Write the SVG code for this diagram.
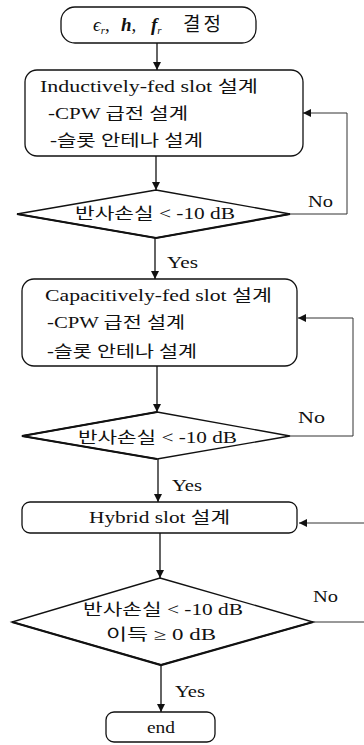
<svg xmlns="http://www.w3.org/2000/svg" width="364" height="745" viewBox="0 0 364 745">
<style>
.t{font-family:"Liberation Serif","Noto Sans CJK KR",serif;font-size:16px;fill:#111}
.box{fill:#fff;stroke:#111;stroke-width:1.3}
.dia{fill:#fff;stroke:#111;stroke-width:1.4;stroke-linejoin:miter}
.heavy{fill:none;stroke:#111;stroke-width:2.2}
.ln{fill:none;stroke:#111;stroke-width:1.3}
.loop{fill:none;stroke:#333;stroke-width:1}
</style>
<defs>
<marker id="ah" viewBox="0 0 10 10" refX="10" refY="5" markerWidth="8" markerHeight="8" markerUnits="userSpaceOnUse" orient="auto">
<path d="M0,0 L10,5 L0,10 Z" fill="#111"/>
</marker>
</defs>
<rect width="364" height="745" fill="#fff"/>
<g id="connectors">
<line class="ln" x1="157" y1="43" x2="157" y2="70" marker-end="url(#ah)"/>
<line class="ln" x1="156" y1="156" x2="156" y2="190" marker-end="url(#ah)"/>
<polyline class="loop" points="290,214 347,214 347,113 303,113" marker-end="url(#ah)"/>
<line class="ln" x1="155" y1="238" x2="155" y2="279" marker-end="url(#ah)"/>
<text class="t" x="167" y="268" textLength="31" lengthAdjust="spacingAndGlyphs">Yes</text>
<text class="t" x="308" y="207" textLength="25" lengthAdjust="spacingAndGlyphs">No</text>
<line class="ln" x1="157" y1="366" x2="157" y2="412" marker-end="url(#ah)"/>
<polyline class="loop" points="290,436 353,436 353,318 298,318" marker-end="url(#ah)"/>
<text class="t" x="298" y="423" textLength="27" lengthAdjust="spacingAndGlyphs">No</text>
<line class="ln" x1="158" y1="459" x2="158" y2="502" marker-end="url(#ah)"/>
<text class="t" x="172" y="491" textLength="30" lengthAdjust="spacingAndGlyphs">Yes</text>
<line class="loop" x1="364" y1="523" x2="299" y2="523" marker-end="url(#ah)"/>
<line class="loop" x1="313" y1="622" x2="364" y2="622"/>
<text class="t" x="313" y="602" textLength="25" lengthAdjust="spacingAndGlyphs">No</text>
<line class="ln" x1="160" y1="533" x2="160" y2="578" marker-end="url(#ah)"/>
<line class="ln" x1="161" y1="665" x2="161" y2="712" marker-end="url(#ah)"/>
<text class="t" x="175" y="697" textLength="30" lengthAdjust="spacingAndGlyphs">Yes</text>
</g>
<g id="start">
<rect class="box" x="61" y="7" width="195" height="36" rx="14"/>
<text class="t" y="31" style="font-size:19px"><tspan x="93" font-style="italic">ϵ</tspan><tspan font-size="11" dy="3" font-style="italic">r</tspan><tspan dy="-3">,</tspan><tspan x="121" font-style="italic" font-weight="bold">h</tspan><tspan>,</tspan><tspan x="151" font-style="italic" font-weight="bold">f</tspan><tspan font-size="11" dy="3" font-style="italic">r</tspan><tspan x="183" dy="-3" letter-spacing="3">결정</tspan></text>
</g>
<g id="inductive">
<rect class="box" x="25" y="70" width="278" height="86" rx="12"/>
<text class="t" x="40" y="92" textLength="218" lengthAdjust="spacingAndGlyphs">Inductively-fed slot 설계</text>
<text class="t" x="48" y="119" textLength="140" lengthAdjust="spacingAndGlyphs">-CPW 급전 설계</text>
<text class="t" x="50" y="146" textLength="153" lengthAdjust="spacingAndGlyphs">-슬롯 안테나 설계</text>
</g>
<g id="check1">
<polygon class="dia" points="156,190 290,214 156,238 17,214"/>
<polyline class="heavy" points="17,214 156,238 290,214"/>
<text class="t" x="75" y="219" textLength="160" lengthAdjust="spacingAndGlyphs">반사손실 &lt; -10 dB</text>
</g>
<g id="capacitive">
<rect class="box" x="22" y="279" width="275" height="87" rx="12"/>
<text class="t" x="45" y="301" textLength="227" lengthAdjust="spacingAndGlyphs">Capacitively-fed slot 설계</text>
<text class="t" x="47" y="328" textLength="138" lengthAdjust="spacingAndGlyphs">-CPW 급전 설계</text>
<text class="t" x="47" y="357" textLength="150" lengthAdjust="spacingAndGlyphs">-슬롯 안테나 설계</text>
</g>
<g id="check2">
<polygon class="dia" points="157,412 290,436 157,459 22,436"/>
<polyline class="heavy" points="157,412 22,436 157,459"/>
<text class="t" x="78" y="443" textLength="159" lengthAdjust="spacingAndGlyphs">반사손실 &lt; -10 dB</text>
</g>
<g id="hybrid">
<rect class="box" x="22" y="502" width="275" height="31" rx="8"/>
<text class="t" x="89" y="523" textLength="141" lengthAdjust="spacingAndGlyphs">Hybrid slot 설계</text>
</g>
<g id="check3">
<polygon class="dia" points="160,578 313,622 161,665 12,622"/>
<polyline class="heavy" points="12,622 161,665 313,622"/>
<text class="t" x="83" y="615" textLength="160" lengthAdjust="spacingAndGlyphs">반사손실 &lt; -10 dB</text>
<text class="t" x="106" y="640" textLength="110" lengthAdjust="spacingAndGlyphs">이득 ≥ 0 dB</text>
</g>
<g id="end">
<rect class="box" x="106" y="712" width="109" height="30" rx="8"/>
<text class="t" x="147" y="733" textLength="28" lengthAdjust="spacingAndGlyphs">end</text>
</g>
</svg>
